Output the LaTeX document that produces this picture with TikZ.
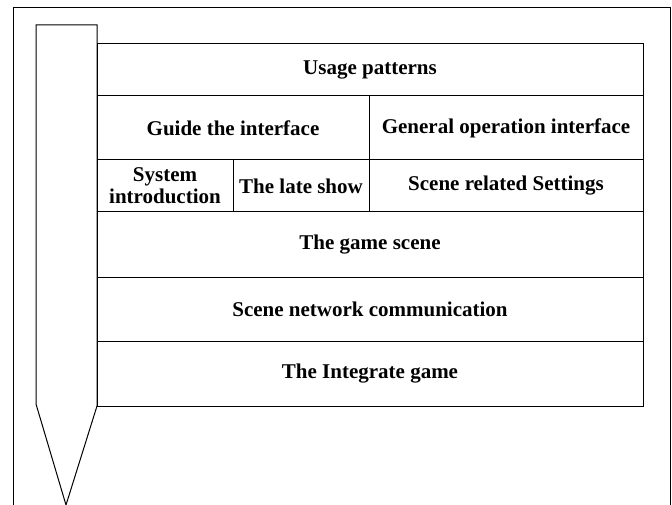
\documentclass[tikz,border=0pt]{standalone}
\usepackage{fontspec}
\setmainfont{Liberation Serif}
\usepackage{tikz}
\usetikzlibrary{positioning}

\begin{document}
\begin{tikzpicture}[x=1pt,y=-1pt,line width=1pt,node distance=0pt,
                    font=\bfseries\fontsize{21}{22}\selectfont]
  \tikzstyle{layer}=[draw,rectangle,inner sep=0pt,outer sep=0pt,align=center]
  \tikzstyle{wide}=[layer,minimum width=546pt]

  \useasboundingbox (0,0) rectangle (672,505);

  % frame, open at the bottom
  \draw (13,505) -- (13,8) -- (670,8) -- (670,505);

  % the pencil
  \coordinate (pTL) at (36,25);
  \coordinate (pTR) at (97,25);
  \coordinate (pBR) at (97,406);
  \coordinate (pBL) at (36,404);
  \coordinate (tip) at (66,505);
  \draw (pTL) -- (pTR) -- (pBR) -- (tip) -- (pBL) -- cycle;

  \node[wide,minimum height=52pt,anchor=north west] (usage) at (97,44) {Usage patterns};

  \node[layer,minimum width=272pt,minimum height=64pt]
       (guide) [below=of usage.south west,anchor=north west] {Guide the interface};
  \node[layer,minimum width=274pt,minimum height=64pt]
       (general) [right=of guide] {General operation interface};

  \node[layer,minimum width=136pt,minimum height=52pt]
       (sysintro) [below=of guide.south west,anchor=north west] {System\\introduction};
  \node[layer,minimum width=136pt,minimum height=52pt]
       (lateshow) [right=of sysintro] {The late show};
  \node[layer,minimum width=274pt,minimum height=52pt]
       (settings) [right=of lateshow] {Scene related Settings};

  \node[wide,minimum height=65pt]
       (gamescene) [below=of sysintro.south west,anchor=north west] {The game scene};
  \node[wide,minimum height=64pt]
       (network) [below=of gamescene] {Scene network communication};
  \node[wide,minimum height=65pt]
       (integrate) [below=of network] {The Integrate game};

\end{tikzpicture}
\end{document}
